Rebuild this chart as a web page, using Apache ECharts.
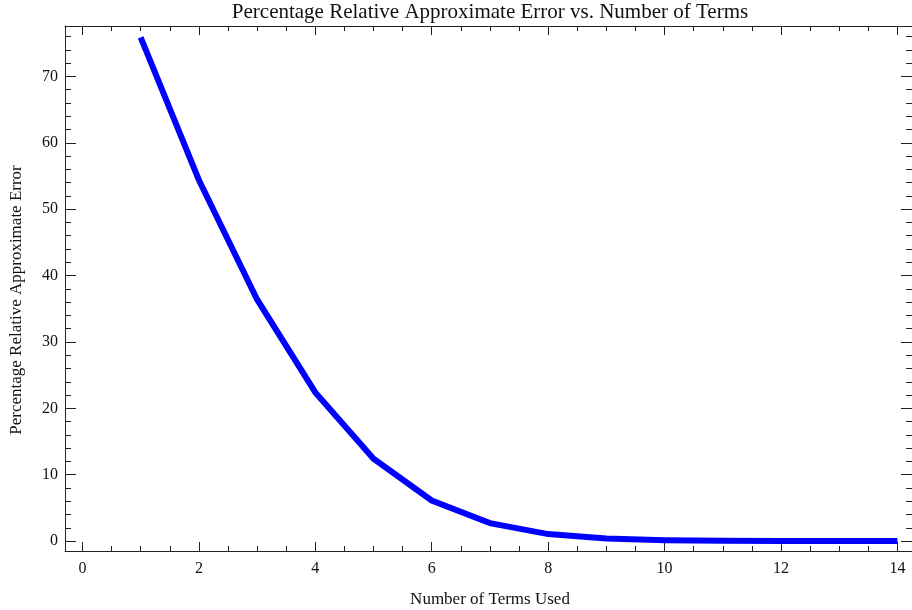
<!DOCTYPE html>
<html>
<head>
<meta charset="utf-8">
<script src="https://cdn.jsdelivr.net/npm/echarts@6/dist/echarts.min.js"></script>
<style>
  html, body { margin: 0; padding: 0; background: #fff; }
  #chart { width: 912px; height: 610px; }
</style>
</head>
<body>
<div id="chart"></div>
<script>
// terms used vs. percentage relative approximate error
var terms = [1, 2, 3, 4, 5, 6, 7, 8, 9, 10, 11, 12, 13, 14];
var errors = [75.9, 54.4, 36.4, 22.4, 12.4, 6.1, 2.7, 1.05, 0.37, 0.12, 0.03, 0.01, 0, 0];

var xTicks = [0, 2, 4, 6, 8, 10, 12, 14];
var xMinorTicks = [0.5, 1, 1.5, 2.5, 3, 3.5, 4.5, 5, 5.5, 6.5, 7, 7.5, 8.5, 9, 9.5, 10.5, 11, 11.5, 12.5, 13, 13.5];
var yTicks = [0, 10, 20, 30, 40, 50, 60, 70];
var yMinorTicks = [2, 4, 6, 8, 12, 14, 16, 18, 22, 24, 26, 28, 32, 34, 36, 38, 42, 44, 46, 48, 52, 54, 56, 58, 62, 64, 66, 68, 72, 74, 76];

var serif = '"Liberation Serif", "DejaVu Serif", serif';
var frameColor = '#222';

const xRange = { min: -0.3, max: 14.25 };
const yRange = { min: -1.5, max: 77.6 };

// one axis per tick set/side so the Mathematica-style frame gets inside ticks everywhere
const makeX = (pos, ticks, len, withLabels, withLine) => ({
  type: 'value',
  position: pos,
  min: xRange.min,
  max: xRange.max,
  axisLine: { show: withLine, onZero: false, lineStyle: { color: frameColor, width: 1 } },
  axisTick: { show: true, inside: true, length: len, customValues: ticks, lineStyle: { color: frameColor, width: 1 } },
  axisLabel: withLabels
    ? { show: true, customValues: ticks, fontFamily: serif, fontSize: 16, color: '#111', margin: 10 }
    : { show: false },
  splitLine: { show: false }
});

const makeY = (pos, ticks, len, withLabels, withLine) => ({
  type: 'value',
  position: pos,
  min: yRange.min,
  max: yRange.max,
  axisLine: { show: withLine, onZero: false, lineStyle: { color: frameColor, width: 1 } },
  axisTick: { show: true, inside: true, length: len, customValues: ticks, lineStyle: { color: frameColor, width: 1 } },
  axisLabel: withLabels
    ? { show: true, customValues: ticks, fontFamily: serif, fontSize: 16, color: '#111', margin: 7 }
    : { show: false },
  splitLine: { show: false }
});

var xAxes = [
  makeX('bottom', xTicks, 9, true, true),
  makeX('bottom', xMinorTicks, 5, false, false),
  makeX('top', xTicks, 9, false, true),
  makeX('top', xMinorTicks, 5, false, false)
];
var yAxes = [
  makeY('left', yTicks, 11, true, true),
  makeY('left', yMinorTicks, 6, false, false),
  makeY('right', yTicks, 11, false, true),
  makeY('right', yMinorTicks, 6, false, false)
];

var chart = echarts.init(document.getElementById('chart'), null, { renderer: 'canvas' });

chart.setOption({
  animation: false,
  backgroundColor: '#fff',
  grid: { left: 65, right: 0, top: 26, bottom: 59, containLabel: false },
  graphic: [
    {
      type: 'text',
      x: 490, y: 12,
      style: {
        text: 'Percentage Relative Approximate Error vs. Number of Terms',
        align: 'center', verticalAlign: 'middle',
        font: '21px ' + serif, fill: '#111'
      }
    },
    {
      type: 'text',
      x: 490, y: 600,
      style: {
        text: 'Number of Terms Used',
        align: 'center', verticalAlign: 'middle',
        font: '17px ' + serif, fill: '#111'
      }
    },
    {
      type: 'text',
      x: 17, y: 300,
      rotation: Math.PI / 2,
      style: {
        text: 'Percentage Relative Approximate Error',
        align: 'center', verticalAlign: 'middle',
        font: '17px ' + serif, fill: '#111'
      }
    }
  ],
  xAxis: xAxes,
  yAxis: yAxes,
  series: [
    {
      type: 'line',
      xAxisIndex: 0,
      yAxisIndex: 0,
      data: terms.map((t, i) => [t, errors[i]]),
      showSymbol: false,
      symbol: 'none',
      clip: true,
      lineStyle: { color: '#0000ff', width: 6, join: 'miter', cap: 'butt' }
    }
  ]
});
</script>
</body>
</html>
